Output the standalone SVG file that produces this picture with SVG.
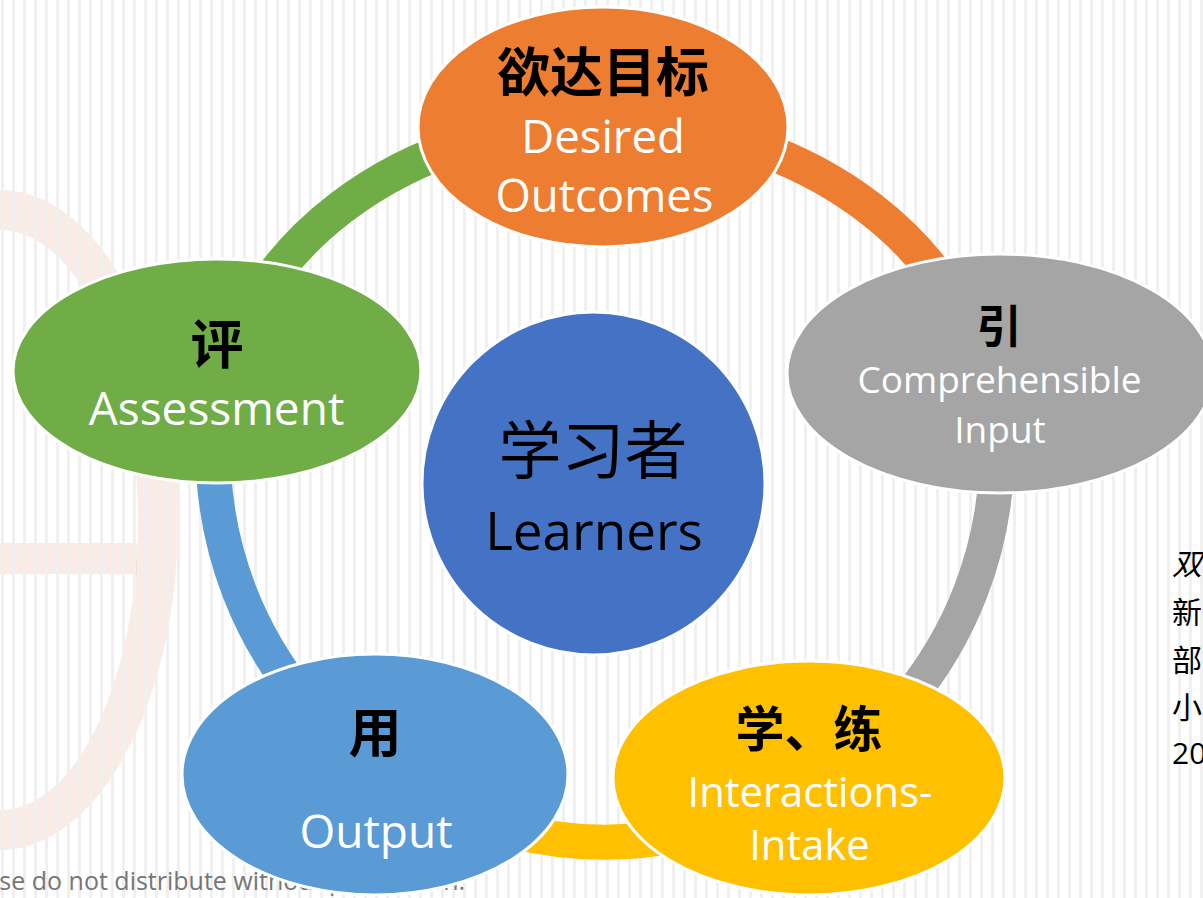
<svg xmlns="http://www.w3.org/2000/svg" width="1203" height="898" viewBox="0 0 1203 898">
  <defs>
    <pattern id="stripes" patternUnits="userSpaceOnUse" x="0" y="0" width="11" height="898">
      <rect x="1" y="0" width="3" height="898" fill="#F0F0F0"/>
    </pattern>
    <style>
      .node { stroke: #FFFFFF; stroke-width: 3; }
      .arc { fill: none; stroke-width: 35; stroke-linecap: butt; }
      .cjkb { font-family: "Noto Sans CJK SC", "Noto Sans", sans-serif; font-weight: 700; fill: #000000; text-anchor: middle; }
      .en { font-family: "Open Sans", "Noto Sans", sans-serif; fill: #FFFFFF; text-anchor: middle; }
      .side { font-family: "Noto Sans CJK SC", "Noto Sans", sans-serif; font-size: 30px; fill: #000000; }
    </style>
  </defs>

  <!-- background -->
  <rect x="0" y="0" width="1203" height="898" fill="#FFFFFF"/>
  <g id="watermark" fill="#E9A885" fill-opacity="0.22">
    <path fill-rule="evenodd" d="M -178 520 A 178 330 0 1 0 178 520 A 178 330 0 1 0 -178 520 Z M -138 520 A 138 290 0 1 0 138 520 A 138 290 0 1 0 -138 520 Z"/>
    <rect x="0" y="543" width="137" height="31"/>
  </g>
  <rect x="0" y="0" width="1203" height="898" fill="url(#stripes)"/>

  <text x="-50" y="890" font-family="'Open Sans', 'Noto Sans', sans-serif" font-size="25" fill="#767676">Please do not distribute without permission.</text>

  <g id="side-text" class="side">
    <text x="1172" y="575" font-style="italic">双</text>
    <text x="1172" y="623">新</text>
    <text x="1172" y="671">部</text>
    <text x="1172" y="718">小</text>
    <text x="1172" y="764" font-family="'Open Sans', sans-serif">20</text>
  </g>

  <!-- connectors -->
  <g id="connectors">
    <path class="arc" stroke="#70AD47" d="M 250.6 310 A 392 328 0 0 1 470 142"/>
    <path class="arc" stroke="#ED7D31" d="M 740 142 A 392 328 0 0 1 959.4 310"/>
    <path class="arc" stroke="#A5A5A5" d="M 996.5 470 A 392 392 0 0 1 907 700"/>
    <path class="arc" stroke="#FFC000" d="M 500 827.7 A 392 392 0 0 0 680 834.8"/>
    <path class="arc" stroke="#5B9BD5" d="M 213.5 470 A 392 392 0 0 0 303 700"/>
  </g>

  <!-- nodes -->
  <g id="node-learners">
    <circle class="node" cx="593.5" cy="483.5" r="171.5" fill="#4472C4"/>
    <text x="593" y="473" font-family="'Noto Sans CJK SC', 'Noto Sans', sans-serif" font-size="63" fill="#000000" text-anchor="middle">学习者</text>
    <text x="594" y="550" font-family="'Open Sans', 'Noto Sans', sans-serif" font-size="53" fill="#000000" text-anchor="middle">Learners</text>
  </g>

  <g id="node-outcomes">
    <ellipse class="node" cx="603" cy="127" rx="185" ry="120" fill="#ED7D31"/>
    <text class="cjkb" x="603" y="92" font-size="53">欲达目标</text>
    <text class="en" x="603" y="153" font-size="45.5">Desired</text>
    <text class="en" x="604.5" y="212" font-size="45.5">Outcomes</text>
  </g>

  <g id="node-input">
    <ellipse class="node" cx="1000" cy="373.5" rx="213" ry="119.5" fill="#A5A5A5"/>
    <text class="cjkb" x="999" y="343" font-size="45">引</text>
    <text class="en" x="999.5" y="393" font-size="37">Comprehensible</text>
    <text class="en" x="1000" y="443" font-size="37">Input</text>
  </g>

  <g id="node-intake">
    <ellipse class="node" cx="809" cy="778" rx="196" ry="117" fill="#FFC000"/>
    <text class="cjkb" x="809" y="747" font-size="49">学、练</text>
    <text class="en" x="810" y="807" font-size="41.7">Interactions-</text>
    <text class="en" x="809.5" y="860" font-size="41.7">Intake</text>
  </g>

  <g id="node-output">
    <ellipse class="node" cx="375" cy="774.5" rx="193" ry="120.5" fill="#5B9BD5"/>
    <text class="cjkb" x="375" y="752" font-size="53">用</text>
    <text class="en" x="376" y="848" font-size="46">Output</text>
  </g>

  <g id="node-assessment">
    <ellipse class="node" cx="217" cy="371" rx="204" ry="112" fill="#70AD47"/>
    <text class="cjkb" x="217" y="364" font-size="53">评</text>
    <text class="en" x="216.5" y="425" font-size="46">Assessment</text>
  </g>
</svg>
